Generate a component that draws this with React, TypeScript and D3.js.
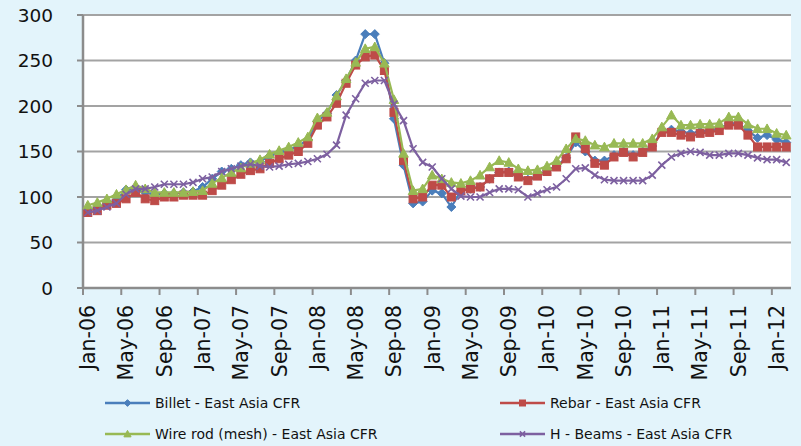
import React from "react";
import * as d3 from "d3";

const months: Date[] = d3.timeMonth.range(new Date(2006, 0, 1), new Date(2012, 2, 1));

const yTicks = [0, 50, 100, 150, 200, 250, 300];

const billet = [
  86, 88, 93, 97, 108, 108, 105, 103, 104, 104, 105, 106, 111, 120, 128, 131, 135, 138, 139,
  145, 149, 152, 156, 163, 183, 192, 212, 228, 250, 279, 279, 247, 186, 135, 93, 95, 107, 104,
  89, 107, 109, 111, 120, 127, 128, 123, 119, 124, 129, 134, 143, 160, 150, 140, 140, 146, 150,
  146, 150, 156, 172, 174, 172, 170, 172, 173, 175, 181, 181, 173, 165, 168, 163, 160,
];
const rebar = [
  83, 85, 91, 93, 98, 105, 98, 96, 100, 100, 102, 102, 102, 107, 113, 119, 125, 129, 131, 137,
  142, 146, 150, 159, 179, 188, 203, 225, 245, 254, 256, 239, 193, 140, 98, 100, 113, 113, 100,
  107, 109, 111, 120, 127, 127, 122, 118, 123, 128, 133, 142, 166, 153, 137, 135, 144, 149, 144,
  149, 155, 171, 171, 168, 166, 170, 171, 173, 179, 179, 168, 155, 155, 155, 155,
];
const wireRod = [
  91, 94, 98, 103, 108, 113, 109, 105, 105, 105, 105, 106, 107, 115, 121, 127, 132, 137, 141,
  147, 151, 155, 160, 166, 187, 193, 211, 230, 248, 263, 265, 247, 207, 148, 107, 109, 124, 120,
  116, 115, 118, 124, 133, 140, 138, 131, 129, 130, 134, 140, 153, 164, 162, 157, 155, 159, 159,
  159, 159, 164, 177, 190, 179, 179, 180, 180, 181, 188, 188, 180, 175, 175, 170, 168,
];
const hBeams = [
  83, 85, 89, 93, 103, 109, 109, 111, 114, 114, 114, 116, 120, 122, 128, 131, 134, 136, 134,
  133, 134, 136, 137, 139, 142, 147, 157, 190, 208, 225, 228, 228, 202, 184, 153, 138, 133, 120,
  109, 101, 100, 100, 105, 109, 109, 108, 100, 104, 108, 111, 120, 131, 132, 124, 119, 118, 118,
  118, 118, 124, 135, 144, 148, 150, 149, 146, 146, 148, 148, 146, 143, 141, 141, 138,
];

const seriesNames = [
  "Billet - East Asia CFR",
  "Rebar - East Asia CFR",
  "Wire rod (mesh) - East Asia CFR",
  "H - Beams - East Asia CFR",
];
const seriesColors = ["#4A7EBB", "#BE4B48", "#98B954", "#7D60A0"];
const seriesMarkers = ["diamond", "square", "triangle", "x"];
const seriesData = [billet, rebar, wireRod, hBeams];

const W = 801;
const H = 446;
const L = 83;
const R = 791;
const T = 15;
const B = 288;

function Marker({ type, x, y, color, k = 1 }: { type: string; x: number; y: number; color: string; k?: number }) {
  if (type === "diamond") {
    const s = 4.5 * k;
    return <path d={`M${x},${y - s}L${x + s},${y}L${x},${y + s}L${x - s},${y}Z`} fill={color} stroke={color} strokeWidth={1} />;
  }
  if (type === "square") {
    const s = 4 * k;
    return <rect x={x - s} y={y - s} width={2 * s} height={2 * s} fill={color} stroke={color} strokeWidth={1} />;
  }
  if (type === "triangle") {
    const s = 4.8 * k;
    return <path d={`M${x},${y - s}L${x + s},${y + s * 0.8}L${x - s},${y + s * 0.8}Z`} fill={color} stroke={color} strokeWidth={1} />;
  }
  const s = 3.5 * k;
  return <path d={`M${x - s},${y - s}L${x + s},${y + s}M${x - s},${y + s}L${x + s},${y - s}`} stroke={color} strokeWidth={1.6} fill="none" />;
}

export default function App() {
  const x = d3.scaleBand<number>().domain(months.map((_, i) => i)).range([L, R]).paddingInner(0).paddingOuter(0);
  const y = d3.scaleLinear().domain([0, 300]).range([B, T]);
  const bw = x.bandwidth();
  const cx = (i: number) => (x(i) as number) + bw / 2;
  const fmt = d3.timeFormat("%b-%y");
  const line = d3
    .line<number>()
    .x((_, i) => cx(i))
    .y((d) => y(d));

  const tickIdx = months.map((_, i) => i).filter((i) => i % 4 === 0);

  const legendItems = [
    { s: 0, lx: 105, ly: 403 },
    { s: 1, lx: 500, ly: 403 },
    { s: 2, lx: 105, ly: 434 },
    { s: 3, lx: 500, ly: 434 },
  ];

  return (
    <div style={{ position: "absolute", left: 0, top: 0 }}>
      <svg width={W} height={H} style={{ display: "block", fontFamily: "DejaVu Sans" }}>
        <rect x={0} y={0} width={W} height={H} fill="#E3F4FB" />
        <rect x={L} y={T} width={R - L} height={B - T} fill="#FFFFFF" />
        {yTicks.map((t) => (
          <g key={t}>
            {t > 0 && <line x1={L} x2={R} y1={y(t)} y2={y(t)} stroke="#A3A3A3" strokeWidth={2} />}
            <line x1={L - 6} x2={L} y1={y(t)} y2={y(t)} stroke="#8C8C8C" strokeWidth={2} />
            <text x={53} y={y(t)} dy="0.36em" textAnchor="end" fontSize={18.5} fill="#111">
              {t}
            </text>
          </g>
        ))}
        <line x1={L} x2={R} y1={B} y2={B} stroke="#8C8C8C" strokeWidth={2.5} />
        <line x1={L} x2={L} y1={T} y2={B} stroke="#8C8C8C" strokeWidth={2.5} />
        {tickIdx.map((i) => (
          <g key={i}>
            <line x1={x(i) as number} x2={x(i) as number} y1={B} y2={B + 7} stroke="#8C8C8C" strokeWidth={2} />
            <text
              transform={`translate(${cx(i)},${B + 17}) rotate(-90)`}
              textAnchor="end"
              dy="0.36em"
              fontSize={20.5}
              fill="#111"
            >
              {fmt(months[i])}
            </text>
          </g>
        ))}
        {seriesData.map((data, s) => (
          <g key={s}>
            <path d={line(data) as string} fill="none" stroke={seriesColors[s]} strokeWidth={2.2} />
            {data.map((v, i) => (
              <Marker key={i} type={seriesMarkers[s]} x={cx(i)} y={y(v)} color={seriesColors[s]} />
            ))}
          </g>
        ))}
        {legendItems.map(({ s, lx, ly }) => (
          <g key={s}>
            <line x1={lx} x2={lx + 45} y1={ly} y2={ly} stroke={seriesColors[s]} strokeWidth={2.5} />
            <Marker type={seriesMarkers[s]} x={lx + 22.5} y={ly} color={seriesColors[s]} k={0.75} />
            <text x={lx + 50} y={ly} dy="0.36em" fontSize={14} fill="#111">
              {seriesNames[s]}
            </text>
          </g>
        ))}
      </svg>
    </div>
  );
}
